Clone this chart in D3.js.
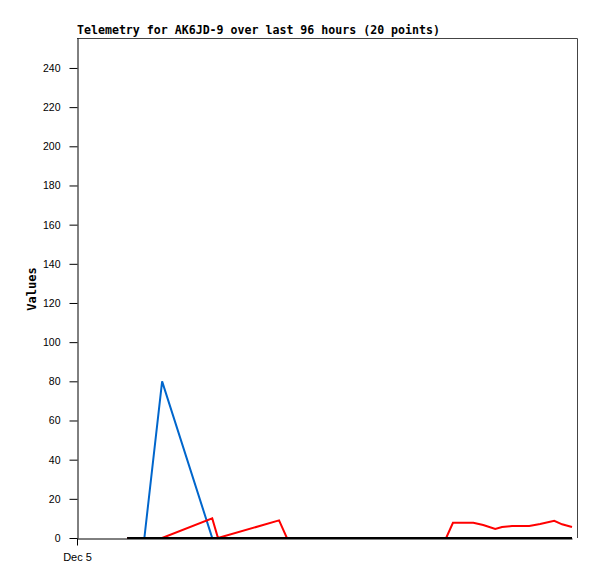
<!DOCTYPE html>
<html>
<head>
<meta charset="utf-8">
<script src="https://cdn.jsdelivr.net/npm/d3@7"></script>
<style>
  body { margin: 0; background: #fff; }
  svg { display: block; }
</style>
</head>
<body>
<script>
// telemetry chart, 3 channels over 96 hours
var hours = [9.6, 12.9, 16.3, 25.9, 27.0, 38.7, 40.2, 55.4, 70.7, 72.0,
             75.9, 77.8, 80.1, 81.4, 83.3, 86.6, 88.7, 91.4, 92.9, 94.8]
var blueVals = [0, 0, 80, 0, 0, 0, 0, 0, 0, 0, 0, 0, 0, 0, 0, 0, 0, 0, 0, 0]
var redVals = [0, 0, 0, 10, 0, 9, 0, 0, 0, 7.8, 7.8, 6.6, 4.6, 5.6, 6.1, 6.1, 7.1, 8.8, 7.0, 5.6]
var blackVals = [0, 0, 0, 0, 0, 0, 0, 0, 0, 0, 0, 0, 0, 0, 0, 0, 0, 0, 0, 0]
var yTicks = [0, 20, 40, 60, 80, 100, 120, 140, 160, 180, 200, 220, 240]
var xTickLabels = ["Dec 5"]

var w = 597, h = 579
// plot box (top-level "top" clashes with window.top, so use an object)
var box = {left: 77, right: 572, top: 38, bottom: 538}

var svg = d3.select("body").append("svg")
    .attr("width", w)
    .attr("height", h)

var xScale = d3.scaleLinear().domain([0, 94.8]).range([box.left, box.right])
var yScale = d3.scaleLinear().domain([0, 255.3]).range([box.bottom, box.top])

// frame (top + right)
svg.append("path")
    .attr("d", "M" + box.left + "," + (box.top + 0.5) + "H" + (box.right + 5.5) + "V" + box.bottom)
    .attr("fill", "none")
    .attr("stroke", "#444")
    .attr("stroke-width", 1)

// y axis
var yAxis = d3.axisLeft(yScale).tickValues(yTicks).tickSize(8).tickPadding(9).tickSizeOuter(0)
var gy = svg.append("g")
    .attr("transform", "translate(" + (box.left + 0.5) + ",0)")
    .call(yAxis)
gy.select(".domain").attr("stroke", "#000")
gy.selectAll("text")
    .attr("font-family", "Liberation Sans, Arial, sans-serif")
    .attr("font-size", 10.5)
    .attr("fill", "#000")

// x axis
var xAxis = d3.axisBottom(xScale).tickValues([0]).tickFormat((d, i) => xTickLabels[i])
    .tickSize(7).tickPadding(8).tickSizeOuter(0)
var gx = svg.append("g")
    .attr("transform", "translate(0," + (box.bottom + 0.5) + ")")
    .call(xAxis)
gx.selectAll("text")
    .attr("font-family", "Liberation Sans, Arial, sans-serif")
    .attr("font-size", 11)
    .attr("fill", "#000")

// lines
var pts = (vals) => hours.map((t, i) => [t, vals[i]])
var line = d3.line().x(d => xScale(d[0])).y(d => yScale(d[1]))

var series = [
  {vals: blueVals, color: "#0066cc"},
  {vals: redVals, color: "#ff0000"},
  {vals: blackVals, color: "#000000"}
]
series.forEach(s => {
  svg.append("path")
     .datum(pts(s.vals))
     .attr("d", line)
     .attr("fill", "none")
     .attr("stroke", s.color)
     .attr("stroke-width", 2)
     .attr("stroke-linejoin", "miter")
})

// title
svg.append("text")
   .attr("x", box.left)
   .attr("y", 34)
   .attr("font-family", "DejaVu Sans Mono, monospace")
   .attr("font-weight", "bold")
   .attr("font-size", 11.6)
   .text("Telemetry for AK6JD-9 over last 96 hours (20 points)")

// y label
svg.append("text")
   .attr("transform", "translate(36,289) rotate(-90)")
   .attr("text-anchor", "middle")
   .attr("font-family", "DejaVu Sans Mono, monospace")
   .attr("font-weight", "bold")
   .attr("font-size", 12)
   .text("Values")
</script>
</body>
</html>
